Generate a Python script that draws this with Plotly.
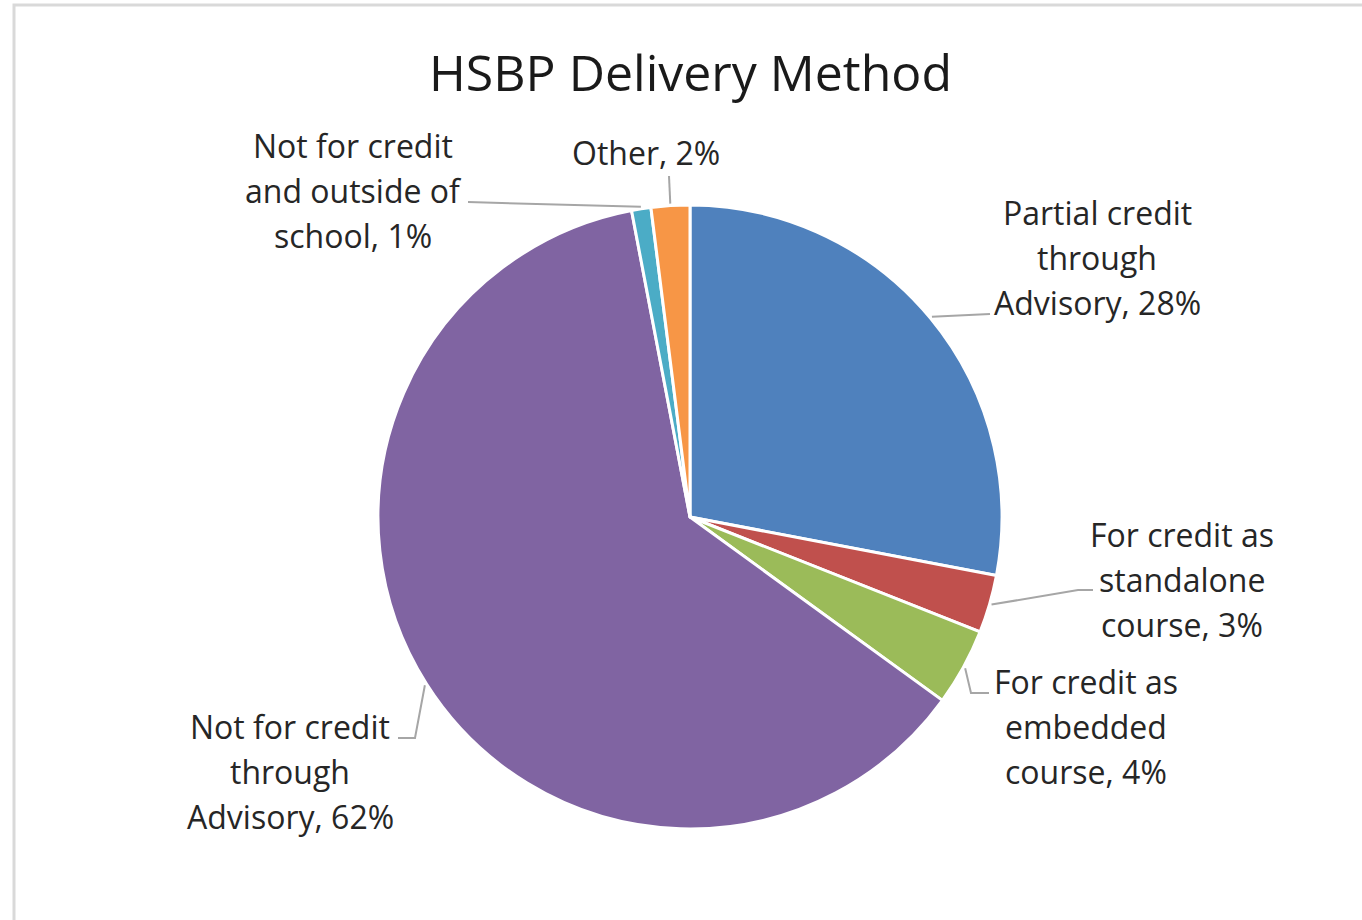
import math
import plotly.graph_objects as go

# ---- data ----
categories = [
    "Partial credit through Advisory",
    "For credit as standalone course",
    "For credit as embedded course",
    "Not for credit through Advisory",
    "Not for credit and outside of school",
    "Other",
]
values = [28, 3, 4, 62, 1, 2]
colors = ["#4F81BD", "#C0504D", "#9BBB59", "#8064A2", "#4BACC6", "#F79646"]
title_text = "HSBP Delivery Method"

# ---- layout constants (pixels, in page coordinates) ----
W, H = 1362, 920
CX, CY, R = 690, 517, 312
FONT = "Open Sans"
LABEL_SIZE = 32
LINE_STEP = 45

label_lines = [
    ["Partial credit", "through", "Advisory"],
    ["For credit as", "standalone", "course"],
    ["For credit as", "embedded", "course"],
    ["Not for credit", "through", "Advisory"],
    ["Not for credit", "and outside of", "school"],
    ["Other"],
]
label_pos = [(1097, 212), (1182, 534), (1086, 681), (290, 726), (353, 145), (646, 153)]
leader_pts = [
    [(990, 314)],
    [(1078, 590), (1093, 590)],
    [(971, 693), (989, 693)],
    [(415, 738), (398, 738)],
    [(468, 202)],
    [(669, 176)],
]


def px(x):
    return x / W


def py(y):
    return 1 - y / H


fig = go.Figure(
    go.Pie(
        labels=categories,
        values=values,
        marker=dict(colors=colors, line=dict(color="white", width=3)),
        sort=False,
        direction="clockwise",
        rotation=0,
        textinfo="none",
        hoverinfo="label+percent",
        showlegend=False,
        domain=dict(x=[px(CX - R), px(CX + R)], y=[py(CY + R), py(CY - R)]),
    )
)

total = sum(values)
annotations = []
shapes = []
cum = 0
for i, v in enumerate(values):
    pct = round(v / total * 100)
    mid = (cum + v / 2) / total * 2 * math.pi
    cum += v
    sx = CX + (R + 2) * math.sin(mid)
    sy = CY - (R + 2) * math.cos(mid)
    pts = [(sx, sy)] + leader_pts[i]
    path = "M " + " L ".join(f"{px(x)},{py(y)}" for x, y in pts)
    shapes.append(dict(type="path", xref="paper", yref="paper", path=path,
                       line=dict(color="#A6A6A6", width=2)))
    lines = list(label_lines[i])
    lines[-1] = f"{lines[-1]}, {pct}%"
    lx, ly = label_pos[i]
    for k, t in enumerate(lines):
        annotations.append(dict(
            text=t, x=px(lx), y=py(ly + k * LINE_STEP), xref="paper", yref="paper",
            xanchor="center", yanchor="middle", showarrow=False,
            font=dict(family=FONT, size=LABEL_SIZE, color="#262626"),
        ))

annotations.append(dict(
    text=title_text, x=px(690), y=py(72), xref="paper", yref="paper",
    xanchor="center", yanchor="middle", showarrow=False,
    font=dict(family=FONT, size=50, color="#1a1a1a"),
))

# chart frame
shapes.append(dict(type="rect", xref="paper", yref="paper",
                   x0=px(14), y0=py(960), x1=px(1400), y1=py(5),
                   line=dict(color="#D9D9D9", width=3), fillcolor="rgba(0,0,0,0)", layer="below"))

fig.update_layout(
    width=W, height=H,
    margin=dict(l=0, r=0, t=0, b=0),
    paper_bgcolor="white",
    plot_bgcolor="white",
    annotations=annotations,
    shapes=shapes,
)

fig.write_html("out.html", config={"displayModeBar": False},
               post_script="document.body.style.margin='0';")
